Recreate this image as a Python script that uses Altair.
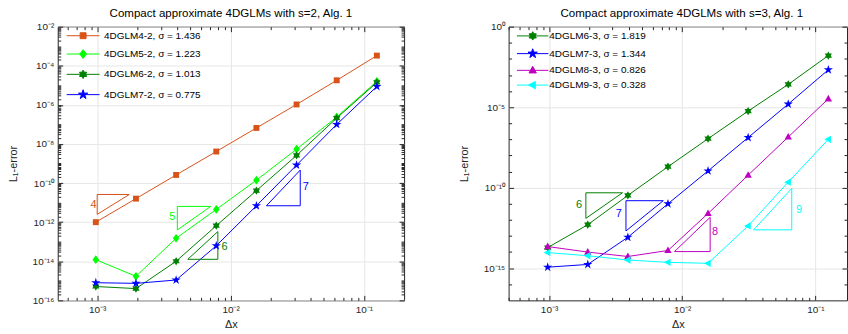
import math
import altair as alt
import pandas as pd

# ---------------- data ----------------
dx = [0.0009765625, 0.001953125, 0.00390625, 0.0078125, 0.015625, 0.03125, 0.0625, 0.125]

s2_names = ["4DGLM4-2, σ = 1.436", "4DGLM5-2, σ = 1.223", "4DGLM6-2, σ = 1.013", "4DGLM7-2, σ = 0.775"]
s2_err_4 = [1.0e-12, 1.6e-11, 2.6e-10, 4.1e-9, 6.6e-8, 1.05e-6, 1.8e-5, 3.3e-4]
s2_err_5 = [1.2e-14, 1.7e-15, 1.5e-13, 4.5e-12, 1.4e-10, 5.4e-9, 2.4e-7, 1.6e-5]
s2_err_6 = [5.1e-16, 4.0e-16, 1.0e-14, 6.6e-13, 4.1e-11, 2.6e-9, 2.1e-7, 1.4e-5]
s2_err_7 = [8.0e-16, 7.4e-16, 1.1e-15, 6.2e-14, 6.9e-12, 8.3e-10, 1.0e-7, 8.7e-6]

s3_names = ["4DGLM6-3, σ = 1.819", "4DGLM7-3, σ = 1.344", "4DGLM8-3, σ = 0.826", "4DGLM9-3, σ = 0.328"]
s3_err_6 = [1.9e-14, 5.0e-13, 3.3e-11, 2.0e-9, 1.1e-7, 5.7e-6, 2.6e-4, 1.6e-2]
s3_err_7 = [1.15e-15, 1.7e-15, 8.3e-14, 1.0e-11, 1.1e-9, 1.3e-7, 1.55e-5, 2.1e-3]
s3_err_8 = [2.2e-14, 1.0e-14, 5.3e-15, 1.25e-14, 2.5e-12, 6.0e-10, 1.4e-7, 3.3e-5]
s3_err_9 = [9.3e-15, 5.9e-15, 3.2e-15, 2.3e-15, 2.0e-15, 4.2e-13, 2.2e-10, 1.0e-7]

# slope triangles (vertices) and their labels
s2_tri_x = [[1.0e-3, 1.74e-3, 1.0e-3, 1.0e-3],
            [3.99e-3, 7.1e-3, 3.99e-3, 3.99e-3],
            [4.78e-3, 8.03e-3, 8.03e-3, 4.78e-3],
            [0.01857, 0.0333, 0.0333, 0.01857]]
s2_tri_y = [[2.6e-11, 2.6e-11, 2.5e-12, 2.6e-11],
            [6.4e-12, 6.4e-12, 4.0e-13, 6.4e-12],
            [1.26e-14, 1.26e-14, 3.3e-13, 1.26e-14],
            [6.9e-12, 6.9e-12, 4.6e-10, 6.9e-12]]
s2_tri_text = ["4", "5", "6", "7"]
s2_tri_lx = [9.4e-4, 3.66e-3, 9.0e-3, 0.0366]
s2_tri_ly = [7.4e-12, 1.76e-12, 5.6e-14, 6.5e-11]

s3_tri_x = [[1.89e-3, 3.56e-3, 1.89e-3, 1.89e-3],
            [3.78e-3, 7.2e-3, 3.78e-3, 3.78e-3],
            [8.75e-3, 0.0162, 0.0162, 8.75e-3],
            [0.0343, 0.0664, 0.0664, 0.0343]]
s3_tri_y = [[4.8e-11, 4.8e-11, 1.24e-12, 4.8e-11],
            [1.55e-11, 1.55e-11, 2.05e-13, 1.55e-11],
            [1.07e-14, 1.07e-14, 1.44e-12, 1.07e-14],
            [2.4e-13, 2.4e-13, 8.9e-11, 2.4e-13]]
s3_tri_text = ["6", "7", "8", "9"]
s3_tri_lx = [1.68e-3, 3.34e-3, 0.01766, 0.0753]
s3_tri_ly = [8.3e-12, 2.3e-12, 1.86e-13, 4.1e-12]

# ---------------- style ----------------
FONT = "Liberation Sans"
AX = "#262626"
GRID = "#e6e6e6"
s2_colors = ["#D95319", "#00FF00", "#008000", "#0000FF"]
s3_colors = ["#008000", "#0000FF", "#BF00BF", "#00FFFF"]


def star(n, r_out, r_in):
    pts = []
    for i in range(2 * n):
        r = r_out if i % 2 == 0 else r_in
        a = -math.pi / 2 + i * math.pi / n
        pts.append((r * math.cos(a), r * math.sin(a)))
    return pts


SHAPES = {
    "square": [(-0.85, -0.85), (0.85, -0.85), (0.85, 0.85), (-0.85, 0.85)],
    "diamond": [(0, -1.25), (0.95, 0), (0, 1.25), (-0.95, 0)],
    "hexagram": star(6, 1.2, 1.2 * 0.577),
    "pentagram": star(5, 1.4, 1.4 * 0.382),
    "tri_up": [(0, -1.15), (1.05, 0.75), (-1.05, 0.75)],
    "tri_left": [(-1.15, 0), (0.75, -1.05), (0.75, 1.05)],
}


def path(pts, s=1.0):
    return "M" + " L".join(f"{x * s:.3f},{y * s:.3f}" for x, y in pts) + " Z"


PT_SIZE = 49   # unit = 3.5 px
LEG_SIZE = 64  # unit = 4 px


def leg_path(pts, half_px):
    h = half_px / 4.0
    return f"M{-h:.3f},0 L{h:.3f},0 " + path(pts, 3.5 / 4.0)


SUP = {"-": "⁻", "0": "⁰", "1": "¹", "2": "²", "3": "³", "4": "⁴",
       "5": "⁵", "6": "⁶", "7": "⁷", "8": "⁸", "9": "⁹"}


def sup(n):
    return "".join(SUP[c] for c in str(n))


def lab_expr(exps):
    s = " : ".join(f"abs(log(datum.value)/LN10 - ({e})) < 0.01 ? '10{sup(e)}'" for e in exps)
    return s + " : ''"


def tick_axis(orient, values, size):
    # inward ticks: negative tick size given as an expression
    return alt.Axis(orient=orient, values=values, ticks=True,
                    tickSize=alt.ExprRef(expr=str(-size)), tickColor=AX,
                    tickWidth=1, labels=False, domain=False, grid=False, title=None,
                    zindex=2)


def panel(names, colors, shape_keys, errs, tri_x, tri_y, tri_text, tri_lx, tri_ly,
          xdom, ydom, width, xmaj_e, ymaj_e, ymin_vals, title, title_dx, leg):
    rows = []
    for n, vals in zip(names, errs):
        for i, (x, v) in enumerate(zip(dx, vals)):
            rows.append({"dx": x, "err": v, "series": n, "k": i})
    df = pd.DataFrame(rows)
    trows = []
    for j, (xs_, ys_) in enumerate(zip(tri_x, tri_y)):
        for i, (x, y) in enumerate(zip(xs_, ys_)):
            trows.append({"x": x, "y": y, "tri": j, "k": i, "series": names[j]})
    tdf = pd.DataFrame(trows)
    ldf = pd.DataFrame({"x": tri_lx, "y": tri_ly, "t": tri_text, "series": names})

    xs = alt.Scale(type="log", domain=xdom, nice=False)
    ys = alt.Scale(type="log", domain=ydom, nice=False)
    cs = alt.Scale(domain=names, range=colors)
    lshs = alt.Scale(domain=names, range=[leg_path(SHAPES[k], leg["half"]) for k in shape_keys])

    xmaj = [10.0 ** e for e in xmaj_e]
    ymaj = [10.0 ** e for e in ymaj_e]
    xmin_vals = [m * 10.0 ** k for k in range(-4, 0) for m in range(2, 10)
                 if xdom[0] < m * 10.0 ** k < xdom[1]]

    main_x = alt.Axis(values=xmaj, labelExpr=lab_expr(xmaj_e), title="Δx", grid=True,
                      gridColor=GRID, gridWidth=1, ticks=False, domain=False,
                      labelFont=FONT, labelFontSize=10, labelColor=AX, labelPadding=4,
                      titleFont=FONT, titleFontSize=11, titleFontWeight="normal",
                      titleColor=AX, titlePadding=4)
    main_y = alt.Axis(values=ymaj, labelExpr=lab_expr(ymaj_e), title="L₁-error", grid=True,
                      gridColor=GRID, gridWidth=1, ticks=False, domain=False,
                      labelFont=FONT, labelFontSize=10, labelColor=AX, labelPadding=4,
                      titleFont=FONT, titleFontSize=11, titleFontWeight="normal",
                      titleColor=AX, titlePadding=14)

    def legend():
        return alt.Legend(
            orient="none", legendX=leg["x"], legendY=leg["y"], title=None,
            labelFont=FONT, labelFontSize=10, labelColor="#000000",
            symbolSize=LEG_SIZE, symbolOffset=leg["so"], labelOffset=leg["lo"],
            rowPadding=leg["rp"], padding=0, symbolStrokeWidth=1, symbolOpacity=1,
        )

    base = alt.Chart(df)
    # legend-only layer (no marks): first, so its explicit legend settings win
    leg_layer = base.transform_filter("false").mark_point(filled=True, size=LEG_SIZE).encode(
        x=alt.X("dx:Q", scale=xs, axis=None),
        y=alt.Y("err:Q", scale=ys, axis=None),
        color=alt.Color("series:N", scale=cs, legend=legend()),
        stroke=alt.Stroke("series:N", scale=alt.Scale(domain=names, range=colors), legend=legend()),
        shape=alt.Shape("series:N", scale=lshs, legend=legend()),
    )
    lines = base.mark_line(strokeWidth=1).encode(
        x=alt.X("dx:Q", scale=xs, axis=main_x),
        y=alt.Y("err:Q", scale=ys, axis=main_y),
        color=alt.Color("series:N", scale=cs),
        order="k:Q",
    )
    tri = alt.Chart(tdf).mark_line(strokeWidth=1).encode(
        x=alt.X("x:Q", scale=xs, axis=None),
        y=alt.Y("y:Q", scale=ys, axis=None),
        color=alt.Color("series:N", scale=cs),
        detail="tri:N",
        order="k:Q",
    )
    txt = alt.Chart(ldf).mark_text(font=FONT, fontSize=11, align="center", baseline="middle").encode(
        x=alt.X("x:Q", scale=xs, axis=None),
        y=alt.Y("y:Q", scale=ys, axis=None),
        text="t:N",
        color=alt.Color("series:N", scale=cs),
    )
    pt_layers = []
    for n, k in zip(names, shape_keys):
        pt_layers.append(
            base.transform_filter(alt.datum.series == n)
            .mark_point(filled=True, size=PT_SIZE, opacity=1, shape=path(SHAPES[k]))
            .encode(
                x=alt.X("dx:Q", scale=xs, axis=None),
                y=alt.Y("err:Q", scale=ys, axis=None),
                color=alt.Color("series:N", scale=cs),
            )
        )

    def ax_layer(xa, ya):
        return base.mark_point(opacity=0).encode(
            x=alt.X("dx:Q", scale=xs, axis=xa),
            y=alt.Y("err:Q", scale=ys, axis=ya),
        )

    a1 = ax_layer(tick_axis("bottom", xmaj, 5), tick_axis("left", ymaj, 5))
    a2 = ax_layer(tick_axis("bottom", xmin_vals, 3), tick_axis("left", ymin_vals, 3))
    a3 = ax_layer(tick_axis("top", xmaj, 5), tick_axis("right", ymaj, 5))
    a4 = ax_layer(tick_axis("top", xmin_vals, 3), tick_axis("right", ymin_vals, 3))

    return alt.layer(leg_layer, lines, tri, txt, *pt_layers, a1, a2, a3, a4).resolve_axis(
        x="independent", y="independent"
    ).properties(
        width=width, height=275,
        title=alt.TitleParams(text=title, font=FONT, fontSize=11.6, fontWeight="normal",
                              color="#000000", offset=2, anchor="middle", dx=title_dx),
    )


left_ymin = [m * 10.0 ** k for k in range(-16, -2) for m in range(1, 10)
             if not (m == 1 and k % 2 == 0) and 1e-16 <= m * 10.0 ** k <= 1e-2]
right_ymin = [10.0 ** k for k in range(-16, 0) if k % 5 != 0]

left = panel(s2_names, s2_colors, ["square", "diamond", "hexagram", "pentagram"],
             [s2_err_4, s2_err_5, s2_err_6, s2_err_7],
             s2_tri_x, s2_tri_y, s2_tri_text, s2_tri_lx, s2_tri_ly,
             [5.06e-4, 0.2], [1e-16, 1e-2], 348, [-3, -2, -1],
             [-16, -14, -12, -10, -8, -6, -4, -2], left_ymin,
             "Compact approximate 4DGLMs with s=2, Alg. 1", 0,
             {"x": 0, "y": 4.1, "so": 20.5, "lo": 16, "rp": 6.4, "half": 16.5})

right = panel(s3_names, s3_colors, ["hexagram", "pentagram", "tri_up", "tri_left"],
              [s3_err_6, s3_err_7, s3_err_8, s3_err_9],
              s3_tri_x, s3_tri_y, s3_tri_text, s3_tri_lx, s3_tri_ly,
              [4.97e-4, 0.1726], [1e-17, 1.0], 340, [-3, -2, -1],
              [-15, -10, -5, 0], right_ymin,
              "Compact approximate 4DGLMs with s=3, Alg. 1", 4,
              {"x": 0, "y": 4.3, "so": 19.2, "lo": 11.7, "rp": 3.8, "half": 15.8})

chart = alt.hconcat(left, right, spacing=52).resolve_scale(
    color="independent", shape="independent", stroke="independent"
).properties(
    padding={"left": 6, "top": 6, "right": 0, "bottom": 0}
).configure_view(stroke=AX, strokeWidth=1)

chart.save("out.html", embed_options={"renderer": "svg", "actions": False})
